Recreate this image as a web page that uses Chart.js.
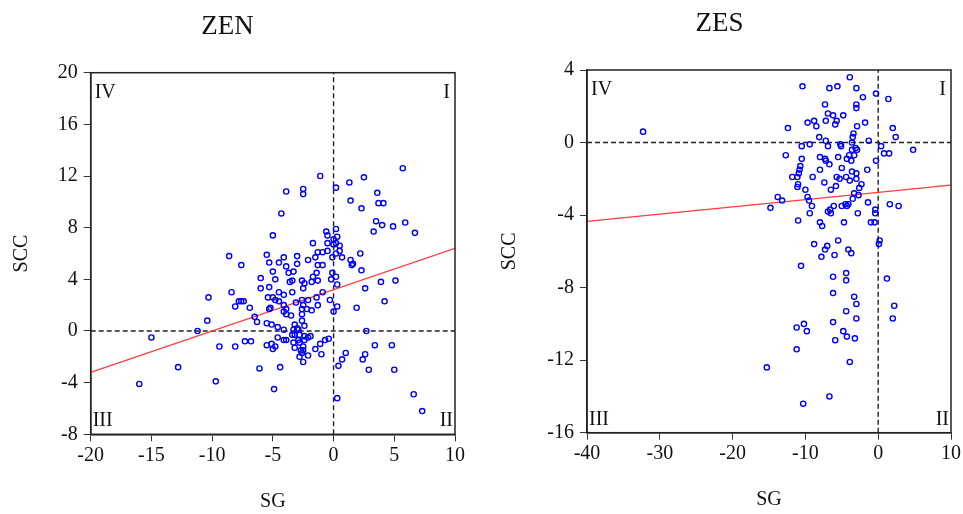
<!DOCTYPE html>
<html>
<head>
<meta charset="utf-8">
<script src="https://cdn.jsdelivr.net/npm/chart.js@4.4.1/dist/chart.umd.min.js"></script>
<style>
  body { margin: 0; background: #fff; width: 963px; height: 514px; overflow: hidden; position: relative; }
  .panel { position: absolute; top: 0; height: 514px; }
</style>
</head>
<body>
<div class="panel" style="left:0;width:480px"><canvas id="zen"></canvas></div>
<div class="panel" style="left:487px;width:476px"><canvas id="zes"></canvas></div>
<script>
// ZEN panel: SG (x) and SCC (y)
const zenSG = [
  -8.6, -5.5, -5.3, -7.6, -6.0, -5.3, -6.0, -8.4, -10.3, -5.4, -7.8, -7.6, -7.4, -8.1, -6.9, -5.3, -6.5, -6.3, -5.5, -10.4,
  -11.2, -15.0, -9.4, -8.1, -7.3, -6.8, -5.5, -12.8, -6.1, -16.0, -9.7,
  -1.1, -3.9, -2.5, -2.5, 0.2, 1.3, 2.5, 5.7, 3.6, 1.4, 3.7, 4.1, 2.3, -4.3, 3.5, 4.0, 4.9, 5.9, 3.3, 6.7,
  -5.0, -0.6, -0.5, 0.2, 0.3, -1.7, -0.5, 0.0, 0.0, 0.2, 0.5,
  -4.1, -4.5, -3.0, -3.9, -3.0, -2.1, -1.5, -1.3, -0.9, -0.5, -0.1, 0.2, 0.5, 0.7, 1.4, 1.5, 1.6, 2.2, 2.3, 3.9,
  5.1, 2.6, 4.2, 1.9, 0.3, 0.0, 2.7, 3.4, 4.8, 2.6, 2.4, 1.0, 0.7, 0.4, 2.9, 5.0, 6.6, 7.3, 0.3, -4.9, -4.4,
  -5.1, -5.0, -4.8, -4.6, -5.1, -4.6, -4.1, -4.1, -3.9, -1.5, -1.1, -1.0, -0.7, -0.4,
  -5.0, -4.8, -3.7, -3.3, -3.6, -3.4, -2.6, -2.4, -2.5, -1.8, -1.7, -1.4, -1.3, -0.9, -1.3, -0.2, -0.1, 0.3, 0.2,
  -4.5, -4.1, -3.4, -5.0, -4.8, -4.5, -5.2, -4.1, -3.9, -4.1, -3.9, -3.5, -3.1, -2.6, -2.5, -2.6, -2.6, -2.2, -2.1,
  -1.8, -1.3, -1.4, -0.9, -0.3, -2.6, -2.4,
  -3.2, -3.0, -3.3, -2.9, -3.2, -3.4, -2.8, -2.4, -2.1, -1.9, -2.4, -2.9, -2.8, -3.3, -3.2, -2.5, -2.7, -2.5, -2.6,
  -2.8, -2.1, -2.5
];
const zenSCC = [
  5.8, 5.9, 5.3, 5.1, 4.1, 3.4, 3.3, 3.0, 2.6, 2.6, 2.3, 2.3, 2.3, 1.9, 1.8, 1.7, 1.1, 0.7, 0.6, 0.8,
  0.0, -0.5, -1.2, -1.2, -0.8, -0.8, -1.1, -2.8, -2.9, -4.1, -3.9,
  12.0, 10.8, 11.0, 10.6, 11.1, 11.5, 11.9, 12.6, 10.7, 10.1, 9.9, 9.9, 9.5, 9.1, 8.5, 8.2, 8.1, 8.4, 7.7, 7.6,
  7.4, 7.7, 7.4, 7.9, 7.3, 6.8, 6.8, 7.1, 6.7, 6.8, 6.6,
  5.7, 5.3, 5.8, 5.0, 5.2, 5.5, 5.7, 6.1, 6.1, 6.2, 5.7, 6.0, 6.2, 5.7, 5.5, 5.1, 5.2, 6.0, 4.7, 3.8,
  3.9, 3.3, 2.3, 1.8, 1.9, 1.5, 0.0, -1.1, -1.1, -1.8, -2.2, -1.7, -2.2, -2.7, -3.0, -3.0, -4.9, -6.2, -5.2, -4.5, -2.8,
  -1.0, -1.4, -1.2, -0.5, 0.5, 0.3, 0.1, -0.7, -0.7, -1.4, -1.0, -1.8, -0.7, -0.6,
  4.6, 4.0, 4.5, 4.6, 3.8, 3.9, 3.9, 3.7, 3.3, 3.8, 4.2, 4.5, 5.1, 5.1, 3.9, 4.0, 4.5, 3.6, 4.2,
  3.0, 2.8, 3.0, 2.6, 2.4, 2.3, 1.8, 2.0, 1.7, 1.5, 1.3, 1.2, 2.2, 2.4, 2.0, 1.7, 1.3, 1.7, 2.4,
  1.6, 2.0, 2.6, 3.0, 2.4, 0.8, 0.4,
  0.5, 0.2, 0.1, 0.1, -0.3, -0.3, -0.3, -0.4, -0.5, -0.4, -0.7, -0.7, -0.9, -0.9, -1.3, -1.2, -1.5, -1.5, -1.7,
  -2.0, -1.9, -2.4
];
const zenFitSG = [-20, 10];
const zenFitSCC = [-3.2, 6.4];
const zenXTicks = [-20, -15, -10, -5, 0, 5, 10];
const zenYTicks = [-8, -4, 0, 4, 8, 12, 16, 20];

// ZES panel
const zesSG = [
  -32.3,
  -3.9, -10.4, -6.7, -5.6, -3.0, -0.3, 1.4, -2.1, -7.3, -3.0, -3.0, -6.9, -6.2, -4.8, -5.7, -5.9, -7.2, -9.7, -8.8,
  -8.5, -2.9, -1.8, -12.4, 2.0, 2.4, -3.4, -8.1, -7.2, -3.5, -3.6, -1.3, -5.2, -5.1, -9.4, -10.5, -6.9, -3.6, -3.1,
  -2.9, 0.4, 0.8, 1.5, 4.8, -12.7, -3.3, -4.0, -3.7, -4.3, -8.0, -5.5, -10.5, -7.3, -7.2, -6.7, -0.3, -10.7, -10.8,
  -10.9, -11.1, -11.8, -8.0, -5.0, -3.6, -3.0, -1.5, -9.0, -5.7, -5.3, -4.4, -3.9, -3.0, -7.4, -11.0, -11.1, -5.8,
  -2.3, -2.6, -10.0, -6.5, -3.3, -2.7, -3.5, -9.7, -9.5, -9.1, -13.8, -13.2, -14.8, -1.4, 1.6, 2.8, -6.1, -6.6,
  -6.9, -6.5, -5.0, -4.5, -4.1, -4.3, -9.4, -2.8, -0.4, -0.4, -11.0, -8.0, -7.7, -4.7, -1.0, -0.5, -8.8, -7.0,
  -7.3, -5.5, 0.2, 0.1, -4.1,
  -7.8, -6.0, -3.7, -10.6, -6.2, -4.4, -4.4, 1.2, -6.2, -3.3, -3.0, 2.2, 2.0, -4.4, -3.0, -6.2, -11.2, -10.2,
  -9.8, -4.8, -4.3, -3.2, -5.9, -11.2, -15.3, -3.9, -6.7, -10.3
];
const zesSCC = [
  0.6,
  3.6, 3.1, 3.0, 3.1, 3.0, 2.7, 2.4, 2.5, 2.1, 2.1, 1.9, 1.6, 1.5, 1.5, 1.2, 1.0, 1.2, 1.1, 1.2,
  0.9, 0.9, 1.1, 0.8, 0.8, 0.3, 0.5, 0.3, 0.1, 0.3, 0.0, 0.1, -0.1, -0.2, -0.1, -0.2, -0.2, -0.4, -0.3,
  -0.4, -0.2, -0.6, -0.6, -0.4, -0.7, -0.7, -0.7, -1.0, -0.9, -0.8, -0.8, -0.9, -0.9, -1.0, -1.2, -1.0, -1.3, -1.5,
  -1.7, -1.9, -1.9, -1.5, -1.4, -1.6, -1.7, -1.5, -1.9, -1.9, -2.0, -1.9, -2.1, -2.0, -2.2, -2.3, -2.45, -2.4,
  -2.3, -2.5, -2.6, -2.6, -2.8, -2.9, -3.1, -3.0, -3.2, -3.5, -3.0, -3.2, -3.6, -3.3, -3.4, -3.5, -3.5, -3.7,
  -3.8, -3.9, -3.5, -3.4, -3.4, -3.5, -3.9, -3.9, -3.7, -3.9, -4.3, -4.4, -4.6, -4.4, -4.4, -4.4, -5.6, -5.7,
  -5.9, -5.4, -5.4, -5.6, -5.9,
  -6.3, -6.2, -6.1, -6.8, -7.4, -7.2, -7.6, -7.5, -8.3, -8.5, -8.9, -9.0, -9.7, -9.3, -9.7, -9.9, -10.2, -10.0,
  -10.4, -10.4, -10.7, -10.8, -10.9, -11.4, -12.4, -12.1, -14.0, -14.4
];
const zesFitSG = [-40, 10];
const zesFitSCC = [-4.35, -2.35];
const zesXTicks = [-40, -30, -20, -10, 0, 10];
const zesYTicks = [-16, -12, -8, -4, 0, 4];

const quadrants = ["I", "II", "III", "IV"];

const serif = "'Liberation Serif', 'DejaVu Serif', serif";

// frame round the plot area + the roman numerals in the corners
const framePlugin = {
  id: "frame",
  afterDraw(chart) {
    const { ctx, chartArea: a } = chart;
    ctx.save();
    ctx.strokeStyle = "#222";
    ctx.lineWidth = 1.5;
    ctx.strokeRect(a.left, a.top, a.right - a.left, a.bottom - a.top);
    ctx.fillStyle = "#111";
    ctx.font = "20px " + serif;
    ctx.textBaseline = "alphabetic";
    ctx.textAlign = "right";
    ctx.fillText(quadrants[0], a.right - 5, a.top + 25);
    ctx.fillText(quadrants[1], a.right - 2, a.bottom - 8);
    ctx.textAlign = "left";
    ctx.fillText(quadrants[2], a.left + 2, a.bottom - 8);
    ctx.fillText(quadrants[3], a.left + 4, a.top + 25);
    ctx.restore();
  }
};

function pairs(xs, ys) {
  return xs.map((x, i) => ({ x, y: ys[i] }));
}

function makePanel(id, p) {
  const xMin = p.xTicks[0], xMax = p.xTicks[p.xTicks.length - 1];
  const yMin = p.yTicks[0], yMax = p.yTicks[p.yTicks.length - 1];
  const dashed = {
    borderColor: "#222",
    borderWidth: 1.4,
    borderDash: [5, 3],
    showLine: true,
    pointRadius: 0,
    fill: false,
    order: 3
  };
  return new Chart(document.getElementById(id), {
    type: "scatter",
    data: {
      datasets: [
        {
          label: "points",
          data: pairs(p.sg, p.scc),
          pointStyle: "circle",
          pointRadius: 2.6,
          pointBorderWidth: 1.4,
          pointBorderColor: "#0000ff",
          pointBackgroundColor: "rgba(255,255,255,0)",
          order: 1
        },
        {
          label: "fit",
          data: pairs(p.fitSG, p.fitSCC),
          showLine: true,
          borderColor: "#ff3b3b",
          borderWidth: 1.2,
          pointRadius: 0,
          fill: false,
          order: 2
        },
        Object.assign({ label: "x0", data: [{ x: 0, y: yMin }, { x: 0, y: yMax }] }, dashed),
        Object.assign({ label: "y0", data: [{ x: xMin, y: 0 }, { x: xMax, y: 0 }] }, dashed)
      ]
    },
    options: {
      responsive: true,
      maintainAspectRatio: false,
      animation: false,
      layout: { padding: { left: 0, right: p.padRight, top: 0, bottom: 0 } },
      plugins: {
        legend: { display: false },
        tooltip: { enabled: false },
        title: {
          display: true,
          text: p.title,
          color: "#111",
          font: { family: serif, size: 27, weight: "normal" },
          padding: { top: p.titleTop, bottom: p.titleBottom }
        }
      },
      scales: {
        x: {
          type: "linear",
          min: xMin,
          max: xMax,
          afterFit: s => { s.height = p.xHeight; },
          afterBuildTicks: s => { s.ticks = p.xTicks.map(v => ({ value: v })); },
          grid: { drawOnChartArea: false, drawTicks: true, tickLength: 7, color: "#333" },
          border: { display: true, color: "#222", width: 1.5 },
          ticks: { color: "#111", padding: 2, maxRotation: 0, font: { family: serif, size: 20 } },
          title: {
            display: true,
            text: "SG",
            color: "#111",
            font: { family: serif, size: 20 },
            padding: { top: 0, bottom: p.sgBottom }
          }
        },
        y: {
          type: "linear",
          min: yMin,
          max: yMax,
          afterFit: s => { s.width = p.yWidth; },
          afterBuildTicks: s => { s.ticks = p.yTicks.map(v => ({ value: v })); },
          grid: { drawOnChartArea: false, drawTicks: true, tickLength: 7, color: "#333" },
          border: { display: true, color: "#222", width: 1.5 },
          ticks: { color: "#111", padding: 6, font: { family: serif, size: 20 } },
          title: {
            display: true,
            text: "SCC",
            color: "#111",
            font: { family: serif, size: 20 },
            padding: { top: p.sccLeft, bottom: 0 }
          }
        }
      }
    },
    plugins: [framePlugin]
  });
}

makePanel("zen", {
  title: "ZEN", sg: zenSG, scc: zenSCC, fitSG: zenFitSG, fitSCC: zenFitSCC,
  xTicks: zenXTicks, yTicks: zenYTicks,
  padRight: 25, titleTop: 11, titleBottom: 29.3, xHeight: 79.7, yWidth: 90.7, sgBottom: 0, sccLeft: 10
});
makePanel("zes", {
  title: "ZES", sg: zesSG, scc: zesSCC, fitSG: zesFitSG, fitSCC: zesFitSCC,
  xTicks: zesXTicks, yTicks: zesYTicks,
  padRight: 11, titleTop: 8, titleBottom: 29.6, xHeight: 81.3, yWidth: 100, sgBottom: 2, sccLeft: 11
});
</script>
</body>
</html>
